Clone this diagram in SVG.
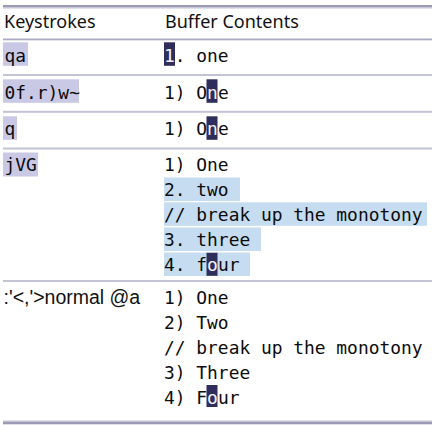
<svg xmlns="http://www.w3.org/2000/svg" width="437" height="425" viewBox="0 0 437 425">
<style>
.hdr{font-family:"Noto Sans","Open Sans",sans-serif;font-size:18px;fill:#111}
.mono{font-family:"DejaVu Sans Mono","Liberation Mono",monospace;font-size:17.9px;fill:#0c0c0c;white-space:pre}
.sans{font-family:"Liberation Sans",Arial,sans-serif;font-size:19.5px;fill:#111}
.cur{fill:#2e2d5c}
.ct{fill:#f4f2ff}
.key{fill:#c9c9e6}
.vis{fill:#c6dcf0}
.sep{fill:#c3c3d6}
</style>
<rect id="page" x="0" y="0" width="437" height="425" fill="#ffffff"/>
<g id="rules">
<rect x="3" y="5" width="429" height="2.5" fill="#9a9ab5"/>
<rect x="3" y="7.5" width="429" height="1" fill="#c3c3d6"/>
<rect x="3" y="38.5" width="429" height="1.8" fill="#a9a9c2"/>
<rect class="sep" x="3" y="74" width="429" height="2"/>
<rect class="sep" x="3" y="110.8" width="429" height="2"/>
<rect class="sep" x="3" y="147.5" width="429" height="2"/>
<rect class="sep" x="3" y="280" width="429" height="2"/>
<rect x="3" y="420.5" width="429" height="1.2" fill="#c3c3d6"/>
<rect x="3" y="421.7" width="429" height="2.6" fill="#9a9ab5"/>
</g>
<g id="header">
<text class="hdr" x="4" y="28">Keystrokes</text>
<text class="hdr" x="165" y="28">Buffer Contents</text>
</g>
<g id="row1">
<rect class="key" x="3" y="42.3" width="25" height="23.5"/>
<text class="mono" x="4.5" y="61.5">qa</text>
<rect class="cur" x="164" y="42.3" width="11" height="23.5"/>
<text class="mono" x="164" y="61.5"><tspan class="ct">1</tspan>. one</text>
</g>
<g id="row2">
<rect class="key" x="3" y="79.3" width="76" height="23.5"/>
<text class="mono" x="4.5" y="98.5">0f.r)w~</text>
<rect class="cur" x="206.5" y="79.3" width="11" height="23.5"/>
<text class="mono" x="164" y="98.5">1) O<tspan class="ct">n</tspan>e</text>
</g>
<g id="row3">
<rect class="key" x="3" y="116.3" width="14" height="23.5"/>
<text class="mono" x="4.5" y="135.3">q</text>
<rect class="cur" x="206.5" y="116.3" width="11" height="23.5"/>
<text class="mono" x="164" y="135.3">1) O<tspan class="ct">n</tspan>e</text>
</g>
<g id="row4">
<rect class="key" x="3" y="152.5" width="35" height="24"/>
<text class="mono" x="4.5" y="171">jVG</text>
<text class="mono" x="164" y="171">1) One</text>
<rect class="vis" x="164" y="177.5" width="76" height="23.5"/>
<text class="mono" x="164" y="196">2. two</text>
<rect class="vis" x="164" y="202.3" width="263" height="23.5"/>
<text class="mono" x="164" y="221">// break up the monotony</text>
<rect class="vis" x="164" y="227.5" width="97" height="23.5"/>
<text class="mono" x="164" y="246">3. three</text>
<rect class="vis" x="164" y="252.5" width="86" height="23.5"/>
<rect class="cur" x="206.5" y="252.8" width="11" height="23"/>
<text class="mono" x="164" y="271.3">4. f<tspan class="ct">o</tspan>ur</text>
</g>
<g id="row5">
<text class="sans" x="3.5" y="304">:'&lt;,'&gt;normal @a</text>
<text class="mono" x="164" y="304">1) One</text>
<text class="mono" x="164" y="329">2) Two</text>
<text class="mono" x="164" y="354">// break up the monotony</text>
<text class="mono" x="164" y="379">3) Three</text>
<rect class="cur" x="206.5" y="385" width="11" height="22"/>
<text class="mono" x="164" y="404">4) F<tspan class="ct">o</tspan>ur</text>
</g>
</svg>
